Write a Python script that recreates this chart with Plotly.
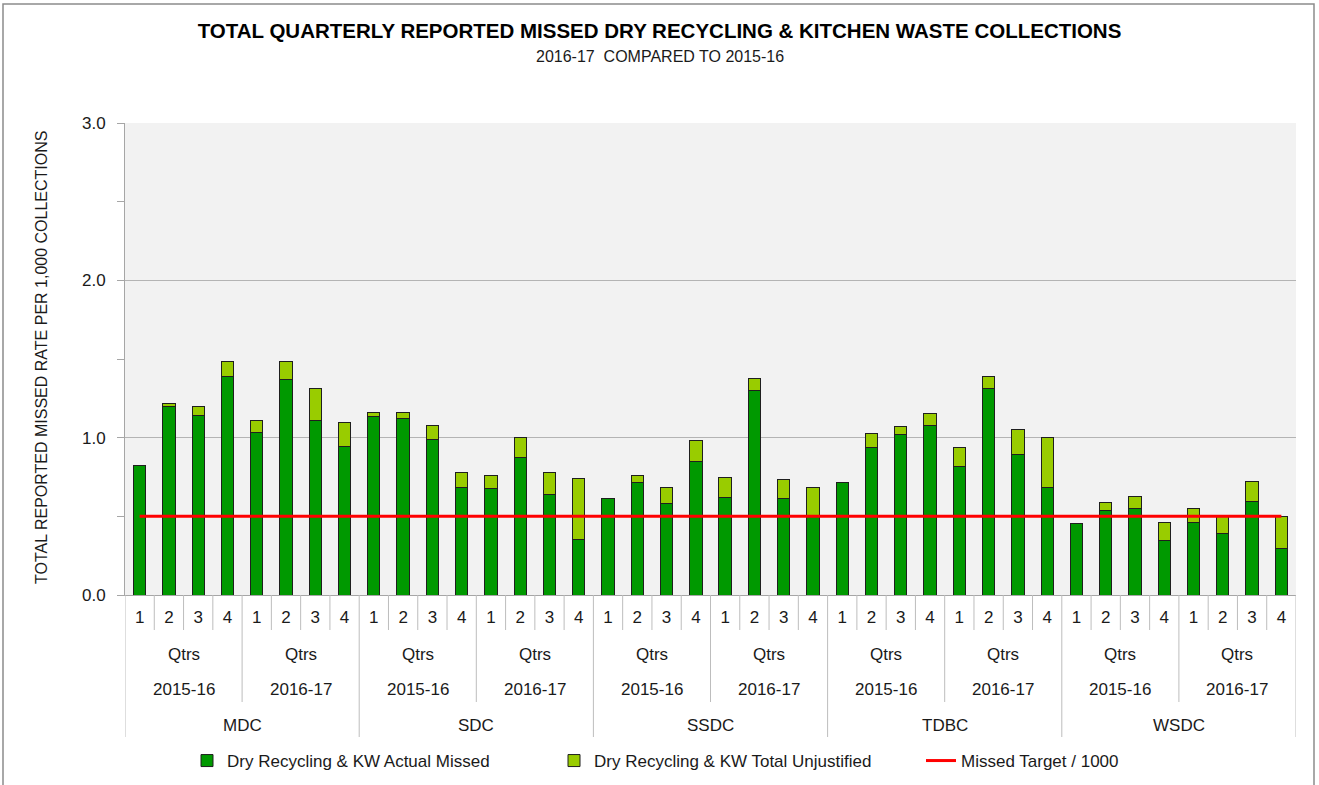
import plotly.graph_objects as go

councils = ["MDC", "SDC", "SSDC", "TDBC", "WSDC"]
years = ["2015-16", "2016-17"]
quarters = ["1", "2", "3", "4"]

actual_missed = [
    0.82, 1.20, 1.14, 1.39, 1.03, 1.37, 1.11, 0.945,      # MDC
    1.134, 1.121, 0.987, 0.681, 0.674, 0.872, 0.640, 0.355,  # SDC
    0.611, 0.715, 0.581, 0.847, 0.619, 1.300, 0.611, 0.500,  # SSDC
    0.715, 0.936, 1.019, 1.079, 0.815, 1.313, 0.896, 0.686,  # TDBC
    0.455, 0.540, 0.551, 0.349, 0.464, 0.389, 0.594, 0.298,  # WSDC
]
total_unjustified = [
    0.0, 0.02, 0.06, 0.095, 0.08, 0.115, 0.20, 0.15,
    0.023, 0.036, 0.09, 0.096, 0.086, 0.128, 0.137, 0.385,
    0.0, 0.045, 0.10, 0.134, 0.126, 0.077, 0.123, 0.181,
    0.0, 0.09, 0.051, 0.072, 0.125, 0.074, 0.155, 0.314,
    0.0, 0.045, 0.072, 0.115, 0.085, 0.111, 0.127, 0.198,
]
missed_target = [0.5] * 40

n = len(actual_missed)
x_idx = list(range(n))
tick_text = quarters * (len(councils) * len(years))

FONT = "Liberation Sans Narrow, Arial Narrow, Liberation Sans, Arial, sans-serif"
TXT = "#1a1a1a"

fig = go.Figure()
fig.add_trace(go.Bar(
    x=x_idx, y=actual_missed, name="Dry Recycling & KW Actual Missed",
    marker=dict(color="#009900", line=dict(color="#1f1f1f", width=1)),
    width=0.42,
))
fig.add_trace(go.Bar(
    x=x_idx, y=total_unjustified, name="Dry Recycling & KW Total Unjustified",
    marker=dict(color="#99CC00", line=dict(color="#1f1f1f", width=1)),
    width=0.42,
))
fig.add_trace(go.Scatter(
    x=x_idx, y=missed_target, name="Missed Target / 1000", mode="lines",
    line=dict(color="#FF0000", width=3),
))

L, R, T, B = 125, 23, 123, 190
W, H = 1319, 785
PH = H - T - B
PW = W - L - R


def py(px):
    return (H - B - px) / PH


def pxx(px):
    return (px - L) / PW


shapes = []
# category separators
for i in range(n + 1):
    if i % 8 == 0:
        bottom = 737
    elif i % 4 == 0:
        bottom = 702
    else:
        bottom = 630
    shapes.append(dict(type="line", xref="x", yref="paper", x0=i - 0.5, x1=i - 0.5,
                       y0=0, y1=py(bottom), line=dict(color="#BDBDBD", width=1)))
# outer chart border
shapes.append(dict(type="rect", xref="paper", yref="paper", x0=pxx(3), x1=pxx(1314),
                   y0=py(792), y1=py(4), line=dict(color="#8C8C8C", width=1.5)))

annotations = []
for gi in range(len(councils) * len(years)):
    cx = gi * 4 + 1.5
    annotations.append(dict(text="Qtrs", x=cx, y=py(654), xref="x", yref="paper",
                            xanchor="center", yanchor="middle", showarrow=False,
                            font=dict(size=17, color=TXT, family=FONT)))
    annotations.append(dict(text=years[gi % 2], x=cx, y=py(689), xref="x", yref="paper",
                            xanchor="center", yanchor="middle", showarrow=False,
                            font=dict(size=17, color=TXT, family=FONT)))
for ci, c in enumerate(councils):
    cx = ci * 8 + 3.5
    annotations.append(dict(text=c, x=cx, y=py(725), xref="x", yref="paper",
                            xanchor="center", yanchor="middle", showarrow=False,
                            font=dict(size=17, color=TXT, family=FONT)))
annotations.append(dict(text="2016-17  COMPARED TO 2015-16", x=pxx(660), y=py(56),
                        xref="paper", yref="paper", xanchor="center", yanchor="middle",
                        showarrow=False, font=dict(size=16, color=TXT, family=FONT)))
annotations.append(dict(text="TOTAL REPORTED MISSED RATE PER 1,000 COLLECTIONS",
                        x=pxx(41), y=py(358), xref="paper", yref="paper",
                        xanchor="center", yanchor="middle", showarrow=False,
                        textangle=-90, font=dict(size=16, color=TXT, family=FONT)))

fig.update_layout(
    width=W, height=H,
    margin=dict(l=L, r=R, t=T, b=B, autoexpand=False),
    barmode="stack",
    paper_bgcolor="white",
    plot_bgcolor="#F2F2F2",
    font=dict(family=FONT, color=TXT),
    title=dict(text="<b>TOTAL QUARTERLY REPORTED MISSED DRY RECYCLING &amp; KITCHEN WASTE COLLECTIONS</b>",
               x=0.5, xref="container", xanchor="center",
               y=1 - 31 / H, yref="container", yanchor="middle",
               font=dict(size=20.5, color="#000000", family=FONT)),
    xaxis=dict(
        range=[-0.5, n - 0.5], tickmode="array", tickvals=x_idx, ticktext=tick_text,
        showgrid=False, zeroline=False, showline=True, linecolor="#A6A6A6", linewidth=1,
        ticks="", tickfont=dict(size=17, color=TXT, family=FONT),
        ticklabelstandoff=7, fixedrange=True,
    ),
    yaxis=dict(
        range=[0, 3], tickmode="linear", tick0=0, dtick=1, tickformat=".1f",
        showgrid=True, gridcolor="#B4B4B4", gridwidth=1, zeroline=False,
        showline=True, linecolor="#A6A6A6", linewidth=1,
        ticks="outside", ticklen=7, tickcolor="#A6A6A6",
        minor=dict(dtick=0.5, ticks="outside", ticklen=7, tickcolor="#A6A6A6", showgrid=False),
        tickfont=dict(size=17, color=TXT, family=FONT), ticklabelstandoff=8,
        fixedrange=True,
    ),
    legend=dict(
        orientation="h", x=pxx(187), xanchor="left", y=py(761), yanchor="middle",
        entrywidth=322, entrywidthmode="pixels", bgcolor="rgba(0,0,0,0)",
        font=dict(size=17, color=TXT, family=FONT), traceorder="normal",
    ),
    shapes=shapes,
    annotations=annotations,
)

fig.write_html("out.html", config={"displayModeBar": False},
               post_script="document.body.style.margin='0';")
